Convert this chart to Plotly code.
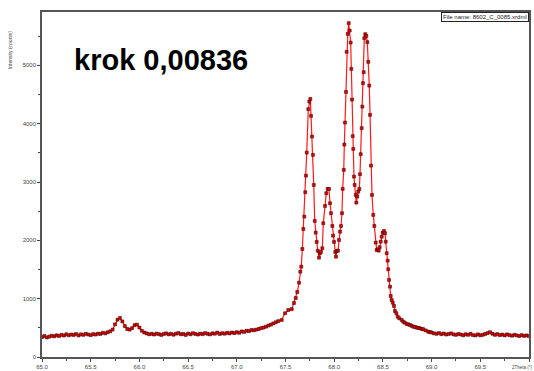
import plotly.graph_objects as go

# ---- data (2Theta in degrees, intensity in counts) ----
left_x = [65.000, 65.025, 65.050, 65.075, 65.100, 65.125, 65.150, 65.175, 65.200, 65.225,
          65.250, 65.275, 65.300, 65.325, 65.350, 65.375, 65.400, 65.425, 65.450, 65.475,
          65.500, 65.525, 65.550, 65.575, 65.600, 65.625, 65.650, 65.675, 65.700, 65.725,
          65.750, 65.775, 65.800, 65.825, 65.850, 65.875, 65.900, 65.925, 65.950, 65.975,
          66.000, 66.025, 66.050, 66.075, 66.100, 66.125, 66.150, 66.175, 66.200, 66.225,
          66.250, 66.275, 66.300, 66.325, 66.350, 66.375, 66.400, 66.425, 66.450, 66.475,
          66.500, 66.525, 66.550, 66.575, 66.600, 66.625, 66.650, 66.675, 66.700, 66.725,
          66.750, 66.775, 66.800, 66.825, 66.850, 66.875, 66.900, 66.925, 66.950, 66.975,
          67.000, 67.025, 67.050, 67.075, 67.100, 67.125, 67.150, 67.175, 67.200, 67.225,
          67.250, 67.275, 67.300, 67.325, 67.350, 67.375, 67.400, 67.425]
left_y = [345, 360, 335, 350, 365, 355, 372, 360, 380, 368,
          390, 372, 385, 378, 395, 370, 388, 380, 398, 385,
          375, 392, 385, 400, 395, 415, 405, 425, 440, 470,
          560, 640, 670, 610, 530, 480, 470, 495, 545, 555,
          505, 450, 420, 405, 390, 398, 385, 400, 392, 378,
          395, 405, 388, 398, 382, 400, 410, 390, 395, 378,
          402, 390, 408, 395, 385, 400, 392, 410, 398, 388,
          405, 400, 418, 395, 408, 400, 415, 405, 420, 410,
          425, 415, 438, 430, 450, 445, 462, 458, 470, 480,
          495, 505, 520, 540, 555, 575, 595, 615]

peak_x = [67.461, 67.495, 67.529, 67.564, 67.587, 67.605, 67.621, 67.639, 67.652, 67.662,
          67.673, 67.683, 67.693, 67.703, 67.710, 67.718, 67.734, 67.744, 67.755, 67.762,
          67.772, 67.782, 67.790, 67.800, 67.810, 67.820, 67.831, 67.844, 67.854, 67.864,
          67.878, 67.888, 67.906, 67.919, 67.933, 67.947, 67.957, 67.967, 67.981, 67.988,
          67.998, 68.011, 68.018, 68.026, 68.039, 68.049, 68.060, 68.070, 68.080, 68.087,
          68.098, 68.104, 68.111, 68.121, 68.128, 68.139, 68.149, 68.159, 68.169, 68.176,
          68.183, 68.190, 68.196, 68.203, 68.210, 68.221, 68.227, 68.237, 68.247, 68.258,
          68.265, 68.272, 68.282, 68.289, 68.296, 68.303, 68.309, 68.319, 68.330, 68.340,
          68.350, 68.360, 68.368, 68.378, 68.388, 68.401, 68.412, 68.426, 68.436, 68.447,
          68.457, 68.467, 68.477, 68.488, 68.498, 68.511, 68.522, 68.529, 68.539, 68.549,
          68.555, 68.563, 68.573, 68.580, 68.590, 68.601, 68.614, 68.624, 68.638, 68.652,
          68.668, 68.693, 68.709, 68.725, 68.744, 68.760, 68.778, 68.795, 68.812, 68.830,
          68.847, 68.865, 68.881, 68.900, 68.915, 68.940, 68.966, 68.983]
peak_y = [635, 750, 806, 820, 926, 1012, 1115, 1274, 1463, 1549,
          1852, 2196, 2407, 2825, 3110, 3504, 4249, 4379, 4425, 4134,
          3779, 3465, 2950, 2333, 2132, 1973, 1823, 1703, 1779, 1801,
          1864, 2293, 2590, 2808, 2882, 2882, 2636, 2465, 2247, 2081,
          1973, 1800, 1720, 1818, 1823, 2007, 2149, 2247, 2465, 2882,
          3208, 3642, 4019, 4545, 5232, 5540, 5724, 5597, 5391, 4940,
          4413, 3786, 3568, 3093, 2950, 2779, 2647, 2750, 2835, 2882,
          3134, 3477, 3923, 4293, 4695, 4883, 5467, 5535, 5506, 5398,
          5060, 4653, 4151, 3281, 2779, 2436, 2247, 1961, 1835, 1847,
          1823, 1882, 1978, 2063, 2132, 2161, 2122, 1978, 1779, 1652,
          1504, 1321, 1206, 1046, 978, 931, 875, 789, 750, 691,
          664, 635, 605, 588, 566, 560, 549, 535, 520, 515,
          503, 498, 492, 480, 475, 455, 434, 428]

right_x = [69.000, 69.025, 69.050, 69.075, 69.100, 69.125, 69.150, 69.175, 69.200, 69.225,
           69.250, 69.275, 69.300, 69.325, 69.350, 69.375, 69.400, 69.425, 69.450, 69.475,
           69.500, 69.525, 69.550, 69.575, 69.600, 69.625, 69.650, 69.675, 69.700, 69.725,
           69.750, 69.775, 69.800, 69.825, 69.850, 69.875, 69.900, 69.925, 69.950, 69.975,
           70.000]
right_y = [420, 405, 398, 410, 392, 402, 385, 395, 405, 388,
           380, 395, 385, 372, 390, 380, 398, 375, 370, 388,
           372, 380, 395, 410, 425, 398, 380, 392, 375, 385,
           370, 388, 375, 365, 380, 370, 360, 375, 362, 370,
           358]

x_ticks = [65.0, 65.5, 66.0, 66.5, 67.0, 67.5, 68.0, 68.5, 69.0, 69.5, 70.0]
x_labels = ["65.0", "65.5", "66.0", "66.5", "67.0", "67.5", "68.0", "68.5", "69.0", "69.5", "70.0"]
y_ticks = [0, 1000, 2000, 3000, 4000, 5000]

xs = left_x + peak_x + right_x
ys = left_y + peak_y + right_y

FONT = "Arial, Liberation Sans, sans-serif"

fig = go.Figure()
fig.add_trace(go.Scatter(
    x=xs, y=ys, mode="lines+markers",
    line=dict(color="#ff1a1a", width=1.2),
    marker=dict(symbol="square", size=3, color="#e00000",
                line=dict(color="#300000", width=0.5)),
    showlegend=False, hoverinfo="skip",
))

fig.update_layout(
    width=534, height=371,
    margin=dict(l=42, r=5, t=12, b=14),
    paper_bgcolor="white", plot_bgcolor="white",
    font=dict(family=FONT, size=6, color="#444"),
    xaxis=dict(range=[65, 70], tickvals=x_ticks, ticktext=x_labels,
               automargin=False,
               ticks="outside", ticklen=3, tickwidth=1, tickcolor="#444",
               minor=dict(dtick=0.25, ticks="outside", ticklen=2, tickcolor="#444"),
               showgrid=False, zeroline=False,
               showline=True, linecolor="#555", linewidth=1.5, mirror=True,
               tickfont=dict(size=6, color="#444")),
    yaxis=dict(range=[0, 5915], tickvals=y_ticks,
               automargin=False,
               ticks="outside", ticklen=3, tickwidth=1, tickcolor="#444",
               minor=dict(dtick=500, ticks="outside", ticklen=2, tickcolor="#444"),
               showgrid=False, zeroline=False,
               showline=True, linecolor="#555", linewidth=1.5, mirror=True,
               tickfont=dict(size=6, color="#444")),
)

fig.add_annotation(xref="paper", yref="paper", x=0.062, y=0.861,
                   xanchor="left", yanchor="middle", showarrow=False,
                   text="<b>krok 0,00836</b>",
                   font=dict(family=FONT, size=29, color="black"))

fig.add_annotation(xref="paper", yref="paper", x=-0.066, y=0.95,
                   xanchor="center", yanchor="top", showarrow=False,
                   textangle=-90, text="Intensity (counts)",
                   font=dict(family=FONT, size=5, color="#444"))

fig.add_annotation(xref="paper", yref="paper", x=1.0, y=1.0,
                   xanchor="right", yanchor="top", showarrow=False,
                   text="File name: 8602_C_0085.xrdml",
                   bgcolor="white", bordercolor="#222", borderwidth=1, borderpad=1,
                   font=dict(family=FONT, size=6, color="#222"))

fig.add_annotation(xref="paper", yref="paper", x=1.01, y=-0.0406,
                   xanchor="right", yanchor="bottom", showarrow=False,
                   text="2Theta (°)", borderpad=0,
                   font=dict(family=FONT, size=4.5, color="#444"))

fig.write_html("out.html", config={"displayModeBar": False},
               post_script="document.body.style.margin='0';document.body.style.overflow='hidden';")
